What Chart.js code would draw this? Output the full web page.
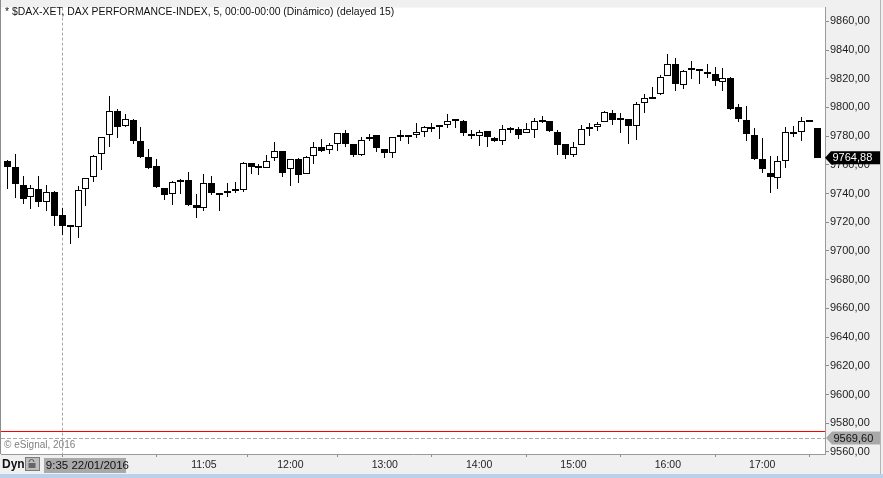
<!DOCTYPE html>
<html><head><meta charset="utf-8">
<script src="https://cdn.jsdelivr.net/npm/chart.js@4.4.1/dist/chart.umd.min.js"></script>
<style>html,body{margin:0;padding:0;background:#f0f0f0;overflow:hidden}canvas{display:block}</style>
</head><body>
<canvas id="c" width="883" height="478" style="width:883px;height:478px"></canvas>
<script>
const times = [
 '09:00','09:05','09:10','09:15','09:20','09:25','09:30','09:35','09:40','09:45','09:50','09:55',
 '10:00','10:05','10:10','10:15','10:20','10:25','10:30','10:35','10:40','10:45','10:50','10:55',
 '11:00','11:05','11:10','11:15','11:20','11:25','11:30','11:35','11:40','11:45','11:50','11:55',
 '12:00','12:05','12:10','12:15','12:20','12:25','12:30','12:35','12:40','12:45','12:50','12:55',
 '13:00','13:05','13:10','13:15','13:20','13:25','13:30','13:35','13:40','13:45','13:50','13:55',
 '14:00','14:05','14:10','14:15','14:20','14:25','14:30','14:35','14:40','14:45','14:50','14:55',
 '15:00','15:05','15:10','15:15','15:20','15:25','15:30','15:35','15:40','15:45','15:50','15:55',
 '16:00','16:05','16:10','16:15','16:20','16:25','16:30','16:35','16:40','16:45','16:50','16:55',
 '17:00','17:05','17:10','17:15','17:20','17:25','17:30','17:35'
];
const opens = [
 9762.7,9758.6,9746.3,9737.6,9743.5,9734.1,9741.3,9725.0,9717.5,9716.6,9743.3,9751.5,
 9767.3,9781.0,9797.4,9787.2,9791.3,9776.4,9765.2,9759.1,9744.0,9739.9,9748.0,9749.2,
 9731.7,9729.6,9747.4,9740.1,9740.3,9742.6,9742.4,9761.1,9758.6,9757.7,9764.6,9769.4,
 9756.8,9764.1,9753.6,9765.9,9772.8,9770.7,9774.2,9782.4,9774.2,9766.8,9778.3,9780.5,
 9771.4,9768.0,9780.5,9780.4,9780.7,9783.1,9786.0,9787.4,9787.9,9791.5,9790.6,9781.7,
 9780.0,9783.7,9778.9,9776.9,9785.3,9785.1,9782.4,9784.4,9791.0,9790.6,9783.1,9774.2,
 9767.0,9773.5,9786.0,9786.5,9789.9,9796.1,9792.0,9792.0,9787.2,9802.9,9807.0,9809.1,
 9822.1,9830.3,9815.9,9826.9,9826.4,9824.9,9823.5,9818.0,9820.7,9800.2,9791.3,9781.0,
 9763.9,9754.6,9750.6,9762.9,9782.4,9782.8,9790.6,9785.8
];
const highs = [
 9763.4,9767.5,9752.4,9746.3,9752.4,9746.3,9741.5,9729.8,9717.5,9745.1,9751.1,9766.8,
 9779.6,9807.9,9798.8,9795.4,9792.0,9786.2,9770.9,9763.9,9744.0,9748.7,9749.9,9755.2,
 9739.4,9753.8,9752.4,9740.1,9747.4,9748.0,9761.8,9761.4,9760.7,9766.8,9775.7,9769.4,
 9763.9,9764.8,9765.9,9776.2,9777.8,9775.0,9782.4,9784.0,9774.8,9779.6,9781.2,9781.0,
 9771.4,9779.6,9784.4,9780.5,9789.2,9786.9,9789.2,9787.9,9795.4,9792.0,9791.5,9784.6,
 9784.6,9783.7,9779.4,9787.9,9786.7,9786.2,9789.4,9792.7,9794.2,9790.6,9784.0,9774.2,
 9775.9,9787.9,9789.2,9790.1,9797.7,9798.1,9796.1,9792.0,9803.6,9809.1,9814.6,9822.8,
 9837.2,9834.4,9826.2,9832.4,9826.4,9830.3,9828.3,9827.6,9821.4,9802.2,9800.9,9785.8,
 9778.9,9765.9,9765.9,9786.5,9787.4,9793.5,9790.6,9785.8
];
const lows = [
 9743.5,9736.7,9732.6,9729.1,9730.5,9728.0,9717.7,9710.8,9705.2,9709.3,9731.4,9747.8,
 9756.1,9772.5,9778.7,9786.2,9774.8,9765.0,9757.2,9743.7,9735.5,9732.1,9739.9,9731.4,
 9723.2,9728.0,9738.9,9728.0,9737.6,9740.6,9741.3,9753.8,9752.6,9757.7,9762.9,9751.3,
 9745.1,9747.2,9753.6,9760.9,9769.1,9767.7,9769.6,9772.5,9765.7,9766.3,9776.6,9769.1,
 9764.6,9764.6,9776.6,9774.6,9778.7,9779.4,9782.8,9778.0,9785.5,9785.5,9780.0,9778.0,
 9773.2,9772.5,9775.9,9773.9,9782.1,9778.0,9782.4,9778.7,9788.9,9782.8,9766.8,9764.3,
 9765.7,9773.5,9780.3,9783.7,9789.9,9787.9,9782.1,9774.6,9777.3,9795.8,9805.7,9808.4,
 9822.1,9811.6,9812.9,9819.8,9816.4,9820.5,9815.0,9811.6,9797.9,9789.6,9776.6,9763.6,
 9754.0,9740.6,9743.0,9758.1,9779.4,9776.6,9789.6,9764.88
];
const closes = [
 9758.6,9746.5,9736.2,9744.0,9734.1,9741.3,9724.5,9717.7,9716.8,9742.8,9750.9,9765.9,
 9779.6,9797.4,9786.2,9792.0,9776.6,9765.7,9758.1,9744.4,9738.9,9748.0,9749.2,9732.1,
 9729.6,9747.4,9740.1,9739.2,9741.9,9741.7,9761.1,9758.8,9757.7,9762.5,9769.4,9754.0,
 9763.9,9752.6,9765.2,9772.8,9770.0,9773.7,9782.4,9774.6,9767.0,9777.6,9779.6,9772.1,
 9768.0,9779.6,9779.6,9779.5,9782.6,9786.5,9784.8,9786.5,9790.6,9790.6,9782.1,9780.3,
 9783.1,9779.4,9776.9,9785.1,9784.2,9781.0,9785.1,9790.6,9789.6,9783.5,9773.9,9767.0,
 9772.8,9785.1,9784.8,9788.5,9796.8,9791.3,9791.0,9787.2,9802.2,9806.4,9806.1,9821.4,
 9830.3,9816.4,9825.1,9826.0,9825.3,9823.2,9818.4,9820.7,9799.2,9792.0,9781.4,9764.3,
 9756.8,9751.3,9762.5,9783.1,9781.2,9790.6,9789.6,9764.88
];
const priceTicks = [9560,9580,9600,9620,9640,9660,9680,9700,9720,9740,9760,9780,9800,9820,9840,9860];
const xTickTimes = ['10:05','11:05','12:00','13:00','14:00','15:00','16:00','17:00'];
const hiddenTickTimes = ['10:05'];
const lastPrice = 9764.88;
const refPrice = 9569.60;
const redLevel = 9574.8;
const crosshairTime = '09:35';
const crosshairLabel = '9:35 22/01/2016';
const titleText = '* $DAX-XET, DAX PERFORMANCE-INDEX, 5, 00:00-00:00 (Dinámico) (delayed 15)';
const copyrightText = '© eSignal, 2016';
const dynText = 'Dyn';
const yMin = 9558.53, yMax = 9869.59;
const xMin = -0.801, xMax = 103.98;

const FONT = '"Liberation Sans", Arial, sans-serif';
const fmt = v => v.toFixed(2).replace('.', ',');

function tag(ctx, x0, x1, yc, fill, color, text) {
  const h = 6.5, aw = 6;
  ctx.beginPath();
  ctx.moveTo(x0, yc);
  ctx.lineTo(x0 + aw, yc - h);
  ctx.lineTo(x1, yc - h);
  ctx.lineTo(x1, yc + h);
  ctx.lineTo(x0 + aw, yc + h);
  ctx.closePath();
  ctx.fillStyle = fill; ctx.fill();
  ctx.fillStyle = color;
  ctx.font = '11px ' + FONT;
  ctx.textAlign = 'left'; ctx.textBaseline = 'middle';
  ctx.fillText(text, x0 + 7.5, yc + 0.5);
}

const decor = {
  id: 'decor',
  beforeDraw(chart) {
    const {ctx, chartArea: a, width, height} = chart;
    ctx.save();
    ctx.fillStyle = '#f0f0f0'; ctx.fillRect(0, 0, width, height);
    ctx.fillStyle = '#ffffff'; ctx.fillRect(a.left, a.top, a.right - a.left, a.bottom - a.top);
    ctx.restore();
  },
  beforeDatasetsDraw(chart) {
    const {ctx, chartArea: a, scales: {x, y}} = chart;
    // snap the library-computed bar geometry to whole pixels for crisp candles
    chart.data.datasets.forEach((ds, di) => {
      chart.getDatasetMeta(di).data.forEach(el => {
        const w = el.width;
        el.x = Math.round(el.x - 0.5) + 0.5 + (w % 2 === 1 ? 0 : 0);
        el.y = Math.round(el.y);
        el.base = Math.round(el.base);
      });
    });
    ctx.save();
    const yr = Math.round(y.getPixelForValue(redLevel));
    ctx.fillStyle = 'rgb(255,0,0)';
    ctx.fillRect(a.left, yr, a.right - a.left, 1);
    const yd = Math.round(y.getPixelForValue(refPrice)) + 0.5;
    ctx.lineWidth = 1;
    ctx.strokeStyle = '#a8a8a8'; ctx.setLineDash([4, 2]);
    ctx.beginPath(); ctx.moveTo(a.left, yd); ctx.lineTo(a.right, yd); ctx.stroke();
    const xc = Math.round(x.getPixelForValue(times.indexOf(crosshairTime)) - 0.5) + 0.5;
    ctx.setLineDash([3, 2]);
    ctx.beginPath(); ctx.moveTo(xc, a.top); ctx.lineTo(xc, a.bottom); ctx.stroke();
    ctx.restore();
  },
  afterDraw(chart) {
    const {ctx, chartArea: a, width, height, scales: {x, y}} = chart;
    ctx.save();
    ctx.strokeStyle = '#8c8c8c'; ctx.lineWidth = 1;
    ctx.beginPath(); ctx.moveTo(0.5, 0); ctx.lineTo(0.5, a.bottom); ctx.stroke();
    ctx.strokeStyle = '#b4b4b4';
    ctx.beginPath(); ctx.moveTo(880.5, 0); ctx.lineTo(880.5, 474); ctx.stroke();
    ctx.fillStyle = '#b9d1ea'; ctx.fillRect(0, 474, width, 4);
    ctx.fillStyle = '#111111';
    ctx.font = '10.4px ' + FONT; ctx.textAlign = 'left'; ctx.textBaseline = 'middle';
    ctx.fillText(titleText, 5, 12);
    ctx.fillStyle = '#808080'; ctx.font = '10px ' + FONT;
    ctx.fillText(copyrightText, 4, 445);
    tag(ctx, a.right, 880, y.getPixelForValue(lastPrice), '#000000', '#ffffff', fmt(lastPrice));
    tag(ctx, a.right + 1, 880, y.getPixelForValue(refPrice), '#a9a9a9', '#111111', fmt(refPrice));
    ctx.fillStyle = '#111111'; ctx.font = 'bold 12px ' + FONT;
    ctx.fillText(dynText, 2, 464.5);
    ctx.fillStyle = '#bdbdbd'; ctx.fillRect(25, 457, 15, 14);
    ctx.strokeStyle = '#7a7a7a'; ctx.strokeRect(25.5, 457.5, 14, 13);
    ctx.strokeStyle = '#555555';
    ctx.beginPath(); ctx.arc(31.5, 462, 2.5, Math.PI, 0); ctx.stroke();
    ctx.fillStyle = '#666666'; ctx.fillRect(28.5, 463, 7, 5);
    const xc = x.getPixelForValue(times.indexOf(crosshairTime));
    ctx.fillStyle = '#a9a9a9'; ctx.fillRect(Math.round(xc - 18.5), 458, 82, 15);
    ctx.fillStyle = '#111111'; ctx.font = '11.5px ' + FONT;
    ctx.fillText(crosshairLabel, xc - 16.5, 466);
    ctx.restore();
  }
};

const bodies = times.map((t, i) => ({x: i, y: [opens[i], closes[i]]}));
const wicks = times.map((t, i) => ({x: i, y: [lows[i], highs[i]]}));
const bodyFill = times.map((t, i) => closes[i] > opens[i] ? '#ffffff' : '#000000');

Chart.defaults.font.family = FONT;
new Chart(document.getElementById('c'), {
  type: 'bar',
  data: {
    datasets: [
      {label: 'body', data: bodies, backgroundColor: bodyFill, borderColor: '#000000', borderWidth: 1,
       borderSkipped: false, barThickness: 7, minBarLength: 2, grouped: false, inflateAmount: 0},
      {label: 'wick', data: wicks, backgroundColor: '#000000', borderWidth: 0,
       barThickness: 1, grouped: false, inflateAmount: 0}
    ]
  },
  options: {
    responsive: false, animation: false, devicePixelRatio: 1,
    layout: {padding: {left: 1, top: 0, right: 0, bottom: 0}},
    plugins: {legend: {display: false}, tooltip: {enabled: false}},
    scales: {
      x: {
        type: 'linear', min: xMin, max: xMax, position: 'bottom', offset: false,
        afterBuildTicks: s => { s.ticks = xTickTimes.map(t => ({value: times.indexOf(t)})); },
        afterFit: s => { s.height = 24; },
        ticks: {autoSkip: false, maxRotation: 0, padding: 2, color: '#1e1e1e',
          font: {size: 10.5},
          callback: v => { const t = times[v]; return hiddenTickTimes.includes(t) ? '' : t; }},
        grid: {drawOnChartArea: false, drawTicks: true, tickLength: 3, color: '#8c8c8c'},
        border: {display: true, color: '#9a9a9a'}
      },
      y: {
        type: 'linear', position: 'right', min: yMin, max: yMax,
        afterBuildTicks: s => { s.ticks = priceTicks.map(v => ({value: v})); },
        afterFit: s => { s.width = 58; },
        ticks: {padding: 1, color: '#1e1e1e', font: {size: 11}, callback: v => fmt(v)},
        grid: {drawOnChartArea: false, drawTicks: true, tickLength: 4, color: '#8c8c8c'},
        border: {display: true, color: '#9a9a9a'}
      }
    }
  },
  plugins: [decor]
});
</script>
</body></html>
